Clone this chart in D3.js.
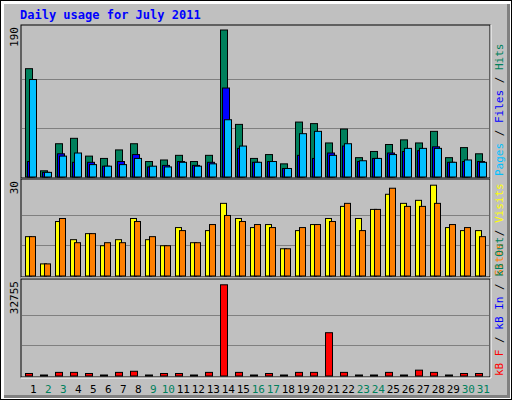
<!DOCTYPE html>
<html><head><meta charset="utf-8">
<script src="https://cdn.jsdelivr.net/npm/d3@7"></script>
<style>body{margin:0;background:#fff}svg{display:block}</style>
</head><body><svg id="c" width="512" height="400"></svg>
<script>
const days = d3.range(1, 32);
const weekend = [2,3,9,10,16,17,23,24,30,31];
const hits  = [140,8,43,50,27,24,35,43,20,22,28,20,28,190,68,24,29,17,71,69,44,62,25,33,42,48,44,59,25,38,30];
const files = [20,6,30,19,19,14,20,29,13,15,20,15,19,115,37,19,20,11,28,24,31,40,20,24,31,33,34,39,19,20,20];
const pages = [126,6,27,31,16,14,16,24,14,13,19,14,17,74,40,19,20,11,56,59,28,43,21,24,29,37,37,37,19,22,19];
const visits= [13,4,18,12,14,10,12,19,12,10,16,11,15,24,19,16,17,9,15,17,19,23,19,22,27,24,25,30,16,15,15];
const sites = [13,4,19,11,14,11,11,18,13,10,15,11,17,20,18,17,16,9,16,17,18,24,15,22,29,23,23,24,17,16,13];
const kbytes= [900,100,1300,1300,900,100,1300,1700,100,900,900,100,1300,32755,1300,100,900,100,1300,1300,15550,1300,100,100,1300,100,2100,1300,100,900,900];
const maxHits = 190, maxVisits = 30, maxKB = 32755;

const svg = d3.select("#c");
const mono = "DejaVu Sans Mono, monospace";
// background & bevel
svg.append("rect").attr("x",0).attr("y",0).attr("width",512).attr("height",400).attr("fill","#000");
svg.append("rect").attr("x",1).attr("y",1).attr("width",510).attr("height",398).attr("fill","#fff");
svg.append("rect").attr("x",4).attr("y",4).attr("width",506).attr("height",394).attr("fill","#808080");
svg.append("rect").attr("x",4).attr("y",4).attr("width",503).attr("height",391).attr("fill","#C0C0C0");

svg.append("text").attr("x",20).attr("y",19).attr("font-family",mono).attr("font-weight","bold")
  .attr("font-size",12).attr("fill","#0000FF").text("Daily usage for July 2011");

const x = d3.scaleLinear().domain([1,32]).range([25.3, 25.3+15*31]);
const L = 21, R = 490;

function panel(top, bottom, max, yTop){
  svg.append("rect").attr("x",L).attr("y",top).attr("width",R-L).attr("height",bottom-top)
    .attr("fill","#C0C0C0").attr("stroke","#000");
  svg.append("line").attr("x1",L).attr("x2",R+1).attr("y1",bottom+1).attr("y2",bottom+1).attr("stroke","#fff");
  svg.append("line").attr("x1",R+1).attr("x2",R+1).attr("y1",top).attr("y2",bottom+1).attr("stroke","#fff");
  const y = d3.scaleLinear().domain([0,max]).range([bottom-1.5, yTop]);
  const h = bottom-1.5-yTop;
  [1,2].forEach(k=>svg.append("line").attr("x1",L+1).attr("x2",R-1)
    .attr("y1",Math.round(bottom-1.5-h*k/3)+0.5).attr("y2",Math.round(bottom-1.5-h*k/3)+0.5).attr("stroke","#808080"));
  return y;
}
function bars(data, y, off, w, color){
  svg.append("g").selectAll("rect").data(data).join("rect")
    .attr("x",(d,i)=>Math.round(x(days[i]))+off+0.5)
    .attr("y",d=>Math.min(y(d), y(0)-1)+0.5)
    .attr("width",w)
    .attr("height",d=>Math.max(y(0)-y(d),1))
    .attr("fill",color).attr("stroke","#000");
}
function leftLabel(txt, yy){
  svg.append("text").attr("transform",`translate(18,${yy}) rotate(-90)`).attr("text-anchor","end")
    .attr("font-family",mono).attr("font-size",11).attr("fill","#000").text(txt);
}
function rightLabel(parts, yy){
  const t = svg.append("text").attr("transform",`translate(495,${yy}) rotate(-90)`)
    .attr("font-family",mono).attr("font-size",11).attr("dominant-baseline","hanging");
  parts.forEach(p=>t.append("tspan").attr("fill",p[1]).text(p[0]));
}

const y1 = panel(25, 178, maxHits, 29.5);
bars(hits, y1, 0, 7, "#00805C");
bars(files, y1, 2, 7, "#0000FF");
bars(pages, y1, 4, 7, "#00C0FF");
leftLabel("190", 27);
rightLabel([["Pages","#00C0FF"],[" / ","#000"],["Files","#0000FF"],[" / ","#000"],["Hits","#00805C"]], 176);

const y2 = panel(179, 277, maxVisits, 184.7);
bars(visits, y2, 0, 6, "#FFFF00");
bars(sites, y2, 4, 6, "#FF8000");
leftLabel("30", 181);
rightLabel([["Sites","#FF8000"],[" / ","#000"],["Visits","#FFFF00"]], 276);

const y3 = panel(279, 377, maxKB, 284.3);
bars(kbytes, y3, 0, 7, "#FF0000");
leftLabel("32755", 281);
rightLabel([["kB F","#FF0000"],[" / ","#000"],["kB In","#0000FF"],[" / ","#000"],["kB Out","#00805C"]], 376);

svg.append("g").selectAll("text").data(days).join("text")
  .attr("x",d=>x(d)+8).attr("y",393).attr("text-anchor","middle")
  .attr("font-family",mono).attr("font-size",11)
  .attr("fill",d=>weekend.includes(d)?"#00805C":"#000").text(d=>d);
</script></body></html>
